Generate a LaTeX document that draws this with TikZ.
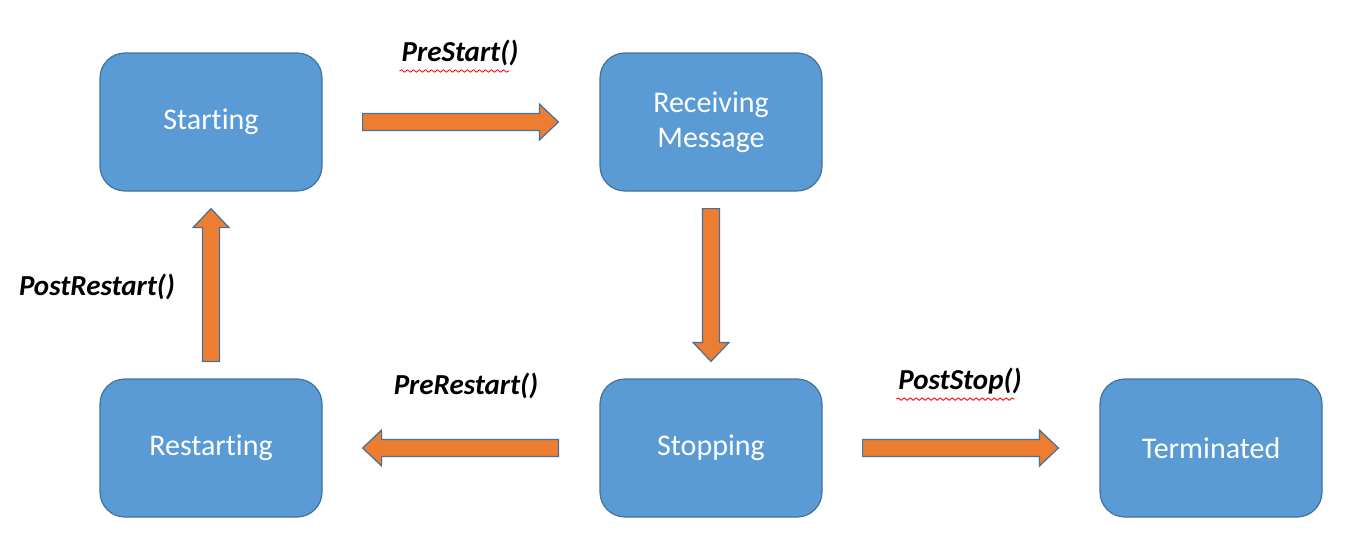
\documentclass[tikz,border=0pt]{standalone}
\usepackage{fontspec}
\setmainfont[Ligatures=NoCommon]{Carlito}
\usepackage{xcolor}
\usetikzlibrary{positioning,calc,decorations.pathmorphing}
\definecolor{boxblue}{HTML}{5B9BD5}
\definecolor{boxline}{HTML}{41719C}
\definecolor{flowfill}{HTML}{ED7D31}

\tikzset{
    state/.style = {draw = boxline, fill = boxblue, line width = .6pt, rounded corners = 12.5pt,
        minimum width = 111pt, minimum height = 69pt, align = center, text = white,
        font = \fontsize{15}{17.5}\selectfont},
    flow/.style = {draw = boxline, fill = flowfill, line width = .6pt, line join = miter},
    hook/.style = {font = \fontsize{14.5}{17}\selectfont\bfseries\itshape},
    typo/.style = {red, line width = .4pt, decorate, decoration = {snake, amplitude = .6pt, segment length = 3pt}}
}
% block arrow from tail #1 to tip #2
\newcommand{\blockarrow}[2]{
    \coordinate (h) at ($(#2)!9.5pt!(#1)$);
    \draw[flow] ($(#1)!4.25pt!90:(#2)$) -- ($(h)!4.25pt!90:(#2)$) -- ($(h)!9pt!90:(#2)$) -- (#2)
        -- ($(h)!9pt!-90:(#2)$) -- ($(h)!4.25pt!-90:(#2)$) -- ($(#1)!4.25pt!-90:(#2)$) -- cycle;
}

\begin{document}
\begin{tikzpicture}[x = .5pt, y = -.5pt]
    \useasboundingbox (0,0) rectangle (1358,557);
    \node[state] (starting) at (211,122) {Starting};
    \node[state] (receiving) at (711,122) {Receiving\\Message};
    \node[state] (restarting) at (211,448) {Restarting};
    \node[state] (stopping) at (711,448) {Stopping};
    \node[state] (terminated) at (1211,448) {Terminated};
    %%%%%%%%%%
    \coordinate (prestarttail) at ($(starting.east)!20pt!(receiving.west)$);
    \coordinate (prestarttip) at ($(receiving.west)!20.5pt!(starting.east)$);
    \coordinate (receivetail) at ($(receiving.south)!8.5pt!(stopping.north)$);
    \coordinate (receivetip) at ($(stopping.north)!8.5pt!(receiving.south)$);
    \coordinate (prerestarttail) at ($(stopping.west)!20.5pt!(restarting.east)$);
    \coordinate (prerestarttip) at ($(restarting.east)!20pt!(stopping.west)$);
    \coordinate (postrestarttail) at ($(restarting.north)!8.5pt!(starting.south)$);
    \coordinate (postrestarttip) at ($(starting.south)!8.5pt!(restarting.north)$);
    \coordinate (poststoptail) at ($(stopping.east)!20pt!(terminated.west)$);
    \coordinate (poststoptip) at ($(terminated.west)!20.5pt!(stopping.east)$);
    \blockarrow{prestarttail}{prestarttip}
    \blockarrow{receivetail}{receivetip}
    \blockarrow{prerestarttail}{prerestarttip}
    \blockarrow{postrestarttail}{postrestarttip}
    \blockarrow{poststoptail}{poststoptip}
    %%%%%%%%%%
    \node[hook] (prestart) at (460,53) {PreStart()};
    \node[hook] (postrestart) at (97,287) {PostRestart()};
    \node[hook] (prerestart) at (466,386) {PreRestart()};
    \node[hook] (poststop) at (960,381) {PostStop()};
    % spell check marks
    \draw[typo] ($(prestart.south west)+(5,-2)$) -- ($(prestart.south east)+(-16,-2)$);
    \draw[typo] ($(poststop.south west)+(5,-2)$) -- ($(poststop.south east)+(-14,-2)$);
\end{tikzpicture}
\end{document}
